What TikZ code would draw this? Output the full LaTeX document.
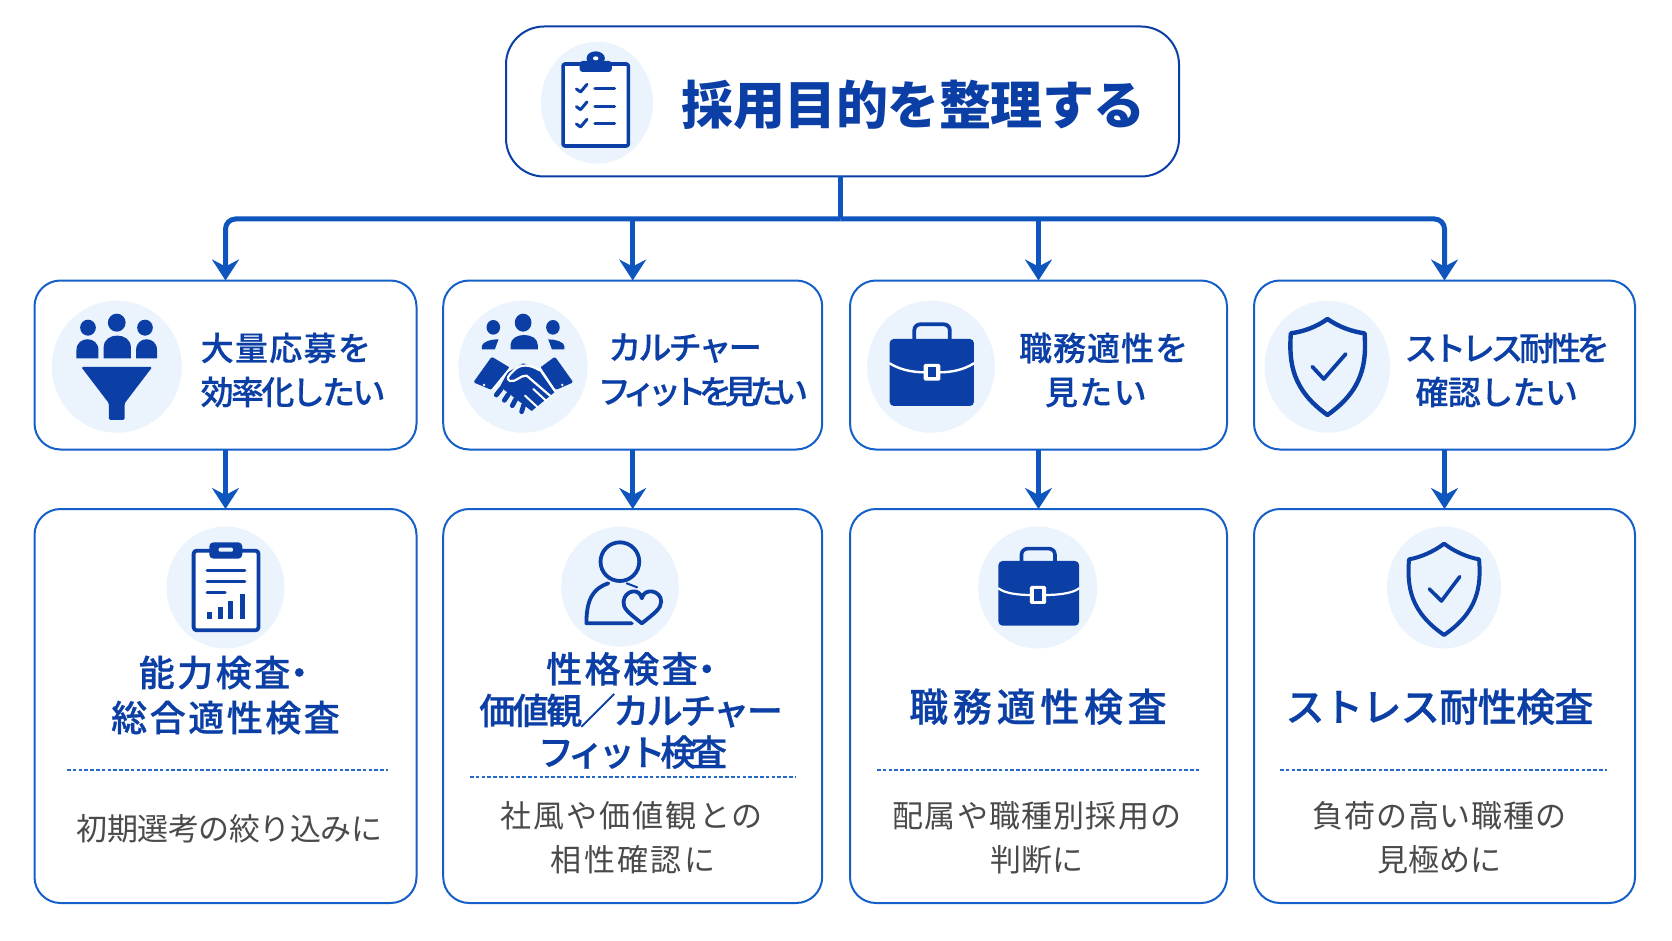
\documentclass[tikz,border=0pt]{standalone}
\usepackage{fontspec}
\usetikzlibrary{arrows.meta}
\newfontfamily\jp{Noto Sans CJK JP}
\newfontfamily\jpm{Noto Sans CJK JP Medium}[FakeBold=0.3]
\newfontfamily\jps{Noto Sans CJK JP Medium}[FakeBold=0.7]
\newcommand{\ls}[2]{{\addfontfeature{LetterSpace=#1}#2}}
\definecolor{navy}{HTML}{0B3FA6}
\definecolor{edgec}{HTML}{1560C8}
\definecolor{linkc}{HTML}{0F55BE}
\definecolor{halo}{HTML}{EBF4FD}
\definecolor{dashc}{HTML}{2468C8}
\definecolor{greyc}{HTML}{4A4A4A}
\tikzset{
  box/.style={draw=edgec,line width=2pt,fill=white,rounded corners=26pt,outer sep=0pt,inner sep=0pt},
  topbox/.style={box,draw=navy,rounded corners=38pt},
  conn/.style={draw=linkc,line width=5pt},
  arr/.style={conn,-{Stealth[length=21pt,width=27pt,inset=7pt,fill=linkc]}},
  cut/.style={draw=dashc,line width=2pt,dash pattern=on 3.6pt off 2.2pt},
  title/.style={text=navy,inner sep=0pt,align=center,font=\jp\bfseries\fontsize{52}{60}\selectfont},
  need/.style={text=navy,inner sep=0pt,font=\jpm\fontsize{33}{44}\selectfont},
  test/.style={text=navy,inner sep=0pt,align=center,font=\jps\fontsize{36}{45}\selectfont},
  testc/.style={test,font=\jps\fontsize{36}{41.6}\selectfont},
  testb/.style={text=navy,inner sep=0pt,align=center,font=\jps\fontsize{39}{46}\selectfont},
  note/.style={text=greyc,inner sep=0pt,align=center,font=\jp\fontsize{31}{44}\selectfont},
  ztop/.style={shift={(480pt,0pt)},x=0.4591pt,y=-0.3333pt},
  za/.style={shift={(20pt,-270pt)},x=0.523pt,y=-0.3333pt},
  zb/.style={shift={(840pt,-270pt)},x=0.523pt,y=-0.3333pt},
  zc/.style={shift={(20pt,-500pt)},x=0.523pt,y=-0.3333pt},
  zd/.style={shift={(840pt,-500pt)},x=0.523pt,y=-0.3333pt},
  zh/.style={shift={(465pt,-345pt)},x=0.3333pt,y=-0.3333pt},
  ink/.style={fill=navy,draw=none},
  stroke/.style={draw=navy,line width=#1,line join=round,line cap=round},
  stroke/.default=3pt,
  wstroke/.style={draw=white,line width=#1,line cap=round,line join=round},
  wstroke/.default=2pt,
}
\begin{document}
\begin{tikzpicture}[x=1pt,y=-1pt]
\useasboundingbox (0,0) rectangle (1672,941);
% ---------- boxes
\node[topbox,minimum width=673pt,minimum height=150pt] (top) at (842.5,101.5) {};
\node[box,minimum width=382pt,minimum height=169pt] (n1) at (225.5,365) {};
\node[box,minimum width=379pt,minimum height=169pt] (n2) at (632.7,365) {};
\node[box,minimum width=377pt,minimum height=169pt] (n3) at (1038.5,365) {};
\node[box,minimum width=381pt,minimum height=169pt] (n4) at (1444.5,365) {};
\node[box,minimum width=382pt,minimum height=394pt] (t1) at (225.5,706) {};
\node[box,minimum width=379pt,minimum height=394pt] (t2) at (632.7,706) {};
\node[box,minimum width=377pt,minimum height=394pt] (t3) at (1038.5,706) {};
\node[box,minimum width=381pt,minimum height=394pt] (t4) at (1444.5,706) {};
% ---------- connectors
\coordinate (tap) at ([xshift=-2pt]top.south);
\coordinate (bus) at (tap |- 0,219);
\draw[conn] (tap) -- (bus);
\draw[arr,rounded corners=10pt] (bus) -| (n1.north);
\draw[arr,rounded corners=10pt] (bus) -| (n4.north);
\draw[arr] (n2.north |- bus) -- (n2.north);
\draw[arr] (n3.north |- bus) -- (n3.north);
\draw[arr] (n1.south) -- (t1.north);
\draw[arr] (n2.south) -- (t2.north);
\draw[arr] (n3.south) -- (t3.north);
\draw[arr] (n4.south) -- (t4.north);
% ---------- halos
\fill[halo] (597,102.7) ellipse [x radius=56,y radius=61];
\fill[halo] (116.8,366.7) ellipse [x radius=65,y radius=66];
\fill[halo] (523,366.7) ellipse [x radius=64.6,y radius=66];
\fill[halo] (931,366.7) ellipse [x radius=63.8,y radius=66];
\fill[halo] (1327.4,366.7) ellipse [x radius=62.8,y radius=66];
\fill[halo] (225.5,587.5) ellipse [x radius=59,y radius=61];
\fill[halo] (620,586.7) ellipse [x radius=58.8,y radius=60];
\fill[halo] (1037.7,587.5) ellipse [x radius=59.6,y radius=61];
\fill[halo] (1444,587.5) ellipse [x radius=57,y radius=61];
% ---------- top clipboard
\begin{scope}[ztop]
\draw[stroke=3.6pt,fill=white,rounded corners=2pt] (181,192) rectangle (323,438);
\fill[ink,rounded corners=3pt] (217,183) rectangle (287,216);
\fill[ink] (252,175) ellipse [x radius=20,y radius=21];
\fill[white] (252,175) ellipse [x radius=6,y radius=6];
\foreach \yy in {267,320,372}{
  \draw[stroke=3pt] (210,\yy) -- (219,\yy+9) -- (233,\yy-14);
  \draw[stroke=3pt] (250,\yy) -- (293,\yy);
}
\end{scope}
% ---------- funnel with people
\begin{scope}[za]
\fill[ink] (130,173) ellipse [x radius=15,y radius=24];
\fill[ink] (185,158) ellipse [x radius=17,y radius=27];
\fill[ink] (239,173) ellipse [x radius=15,y radius=24];
\fill[ink] (108,265) -- (108,240) .. controls (108,197) and (150,197) .. (150,240) -- (150,265) -- cycle;
\fill[ink] (160,265) -- (160,232) .. controls (160,185) and (212,185) .. (212,232) -- (212,265) -- cycle;
\fill[ink] (222,265) -- (222,240) .. controls (222,197) and (262,197) .. (262,240) -- (262,265) -- cycle;
\fill[ink,rounded corners=1.5pt] (117,291) -- (253,291) -- (200,400) -- (200,450) -- (170,450) -- (170,400) -- cycle;
\end{scope}
% ---------- people with handshake
\begin{scope}[za]
\fill[ink] (905,172) ellipse [x radius=13,y radius=22];
\fill[ink] (962,158) ellipse [x radius=16,y radius=27];
\fill[ink] (1019,172) ellipse [x radius=13,y radius=22];
\fill[ink] (938,238) -- (938,225) .. controls (938,185) and (990,185) .. (990,225) -- (990,238) -- cycle;
\fill[ink] (883,238) -- (883,228) .. controls (885,215) and (900,208) .. (915,208) -- (908,238) -- cycle;
\fill[ink] (1041,238) -- (1041,228) .. controls (1039,215) and (1024,208) .. (1010,208) -- (1017,238) -- cycle;
\end{scope}
\begin{scope}[zh]
\fill[ink,rounded corners=1.5pt] (80,35) -- (135,68) -- (80,135) -- (25,112) -- cycle;
\fill[ink,rounded corners=1.5pt] (270,35) -- (325,112) -- (272,135) -- (225,68) -- cycle;
\fill[ink] (128,82) -- (175,55) -- (222,76) -- (268,142) -- (200,198) -- (105,125) -- cycle;
\foreach \xa/\ya/\xb/\yb in {108/132/94/150,130/148/118/166,152/163/142/182,176/180/170/200}{
  \draw[stroke=4.8pt] (\xa,\ya) -- (\xb,\yb);
}
\draw[wstroke=2pt] (135,70) -- (82,135);
\draw[wstroke=2pt] (225,70) -- (268,135);
\draw[wstroke=2.2pt] (224,76) .. controls (195,58) and (165,55) .. (145,78) .. controls (130,92) and (122,102) .. (135,108) .. controls (155,112) and (165,90) .. (185,92) -- (255,152);
\draw[wstroke=2pt] (205,132) -- (244,168);
\draw[wstroke=2pt] (180,152) -- (218,187);
\fill[white] (57,120) circle [radius=4];
\fill[white] (292,120) circle [radius=4];
\end{scope}
% ---------- briefcase (row 2)
\begin{scope}[zb]
\draw[stroke=3.8pt,rounded corners=6pt] (142,210) -- (142,163) -- (210,163) -- (210,210);
\fill[ink,rounded corners=4pt] (95,207) rectangle (256,408);
\draw[wstroke=2.4pt] (95,280) .. controls (115,300) and (140,307) .. (162,307);
\draw[wstroke=2.4pt] (190,307) .. controls (212,307) and (236,300) .. (256,280);
\fill[white,rounded corners=1.5pt] (160,282) rectangle (192,332);
\fill[ink] (168,292) rectangle (184,322);
\end{scope}
% ---------- shield (row 2)
\begin{scope}[zb]
\draw[stroke=4.4pt] (932,147) .. controls (910,172) and (885,185) .. (862,190) .. controls (858,280) and (865,360) .. (932,435) .. controls (1000,360) and (1007,280) .. (1003,190) .. controls (980,185) and (955,172) .. (932,147) -- cycle;
\draw[stroke=3.8pt] (903,290) -- (925,327) -- (967,252);
\end{scope}
% ---------- report clipboard (row 3)
\begin{scope}[zc]
\draw[stroke=3.8pt,fill=white,rounded corners=3pt] (332,152) rectangle (456,391);
\fill[ink,rounded corners=4pt] (362,127) rectangle (425,176);
\fill[halo,rounded corners=1pt] (380,143) rectangle (407,155);
\draw[stroke=3pt] (358,212) -- (430,212);
\draw[stroke=3pt] (358,245) -- (430,245);
\draw[stroke=3pt] (358,277) -- (392,277);
\fill[ink] (358,337) rectangle (368,356);
\fill[ink] (378,320) rectangle (388,356);
\fill[ink] (398,303) rectangle (408,356);
\fill[ink] (420,283) rectangle (430,356);
\end{scope}
% ---------- person with heart
\begin{scope}[zc]
\draw[stroke=3.8pt] (1147,185) ellipse [x radius=37,y radius=58];
\draw[stroke=3.8pt] (1125,250) .. controls (1095,265) and (1083,300) .. (1083,370) -- (1170,370);
\draw[stroke=2pt] (1160,250) -- (1180,262);
\draw[stroke=3.8pt] (1189,370) .. controls (1165,340) and (1152,325) .. (1154,305) .. controls (1156,270) and (1185,262) .. (1189,295) .. controls (1193,262) and (1226,270) .. (1226,305) .. controls (1226,325) and (1213,340) .. (1189,370) -- cycle;
\end{scope}
% ---------- briefcase (row 3)
\begin{scope}[zd]
\draw[stroke=3.6pt,rounded corners=6pt] (347,186) -- (347,146) -- (411,146) -- (411,186);
\fill[ink,rounded corners=4pt] (303,183) rectangle (457,377);
\draw[wstroke=2.2pt] (303,265) .. controls (315,280) and (340,285) .. (365,285);
\draw[wstroke=2.2pt] (392,285) .. controls (417,285) and (445,280) .. (457,265);
\fill[white,rounded corners=1.5pt] (363,258) rectangle (394,312);
\fill[ink] (371,268) rectangle (386,302);
\end{scope}
% ---------- shield (row 3)
\begin{scope}[zd]
\draw[stroke=4pt] (1155,131) .. controls (1135,155) and (1110,172) .. (1088,178) .. controls (1084,260) and (1090,335) .. (1155,405) .. controls (1220,335) and (1226,260) .. (1222,178) .. controls (1200,172) and (1175,155) .. (1155,131) -- cycle;
\draw[stroke=3.6pt] (1127,267) -- (1150,303) -- (1185,230);
\end{scope}
% ---------- texts
\node[title] (ttl) at (913.7,105) {\ls{-1}{採用目的を整理する}};
\node[need,align=left,anchor=west] (l1) at (200.5,370) {\ls{4}{大量応募を}\\\ls{-8}{効率化したい}};
\node[need,align=center] (l2) at (703,370) {\hspace*{-36pt}\ls{-8.5}{カルチャー}\\\ls{-23}{フィットを見たい}};
\node[need,align=center] (l3) at (1095.8,370) {\hspace*{15.6pt}\ls{3}{職務適性を}\\\ls{4}{見たい}};
\node[need,align=center] (l4) at (1496.7,370) {\hspace*{20.6pt}\ls{-13}{ストレス耐性を}\\\ls{-2}{確認したい}};
\node[test] (c1) at (223.5,695) {\ls{7}{能力検査}\kern-9pt ・\kern-9pt\\\hspace*{4pt}\ls{7}{総合適性検査}};
\node[testc] (c2) at (631,710.5) {\ls{7}{性格検査}\kern-9pt ・\kern-9pt\\\ls{-7}{価値観／カルチャー}\\\hspace*{3pt}\ls{-14.5}{フィット検査}};
\node[testb] (c3) at (1038,706.7) {\ls{12}{職務適性検査}};
\node[testb] (c4) at (1439.5,706.7) {\ls{-1.5}{ストレス耐性検査}};
\coordinate (d1a) at (67,770.3); \coordinate (d1b) at (388,770.3);
\coordinate (d2a) at (470,777);  \coordinate (d2b) at (795,777);
\coordinate (d3a) at (877,770.3);\coordinate (d3b) at (1199,770.3);
\coordinate (d4a) at (1280,770.3);\coordinate (d4b) at (1607,770.3);
\draw[cut] (d1a) -- (d1b);
\draw[cut] (d2a) -- (d2b);
\draw[cut] (d3a) -- (d3b);
\draw[cut] (d4a) -- (d4b);
\node[note] (s1) at (229.5,828.3) {\ls{-1.5}{初期選考の絞り込みに}};
\node[note] (s2) at (631.5,838) {\ls{7}{社風や価値観との}\\\hspace*{3pt}\ls{8}{相性確認に}};
\node[note] (s3) at (1037,838) {\ls{4}{配属や職種別採用の}\\\ls{1}{判断に}};
\node[note] (s4) at (1439.5,838) {\ls{3}{負荷の高い職種の}\\\ls{-1}{見極めに}};
\end{tikzpicture}
\end{document}
